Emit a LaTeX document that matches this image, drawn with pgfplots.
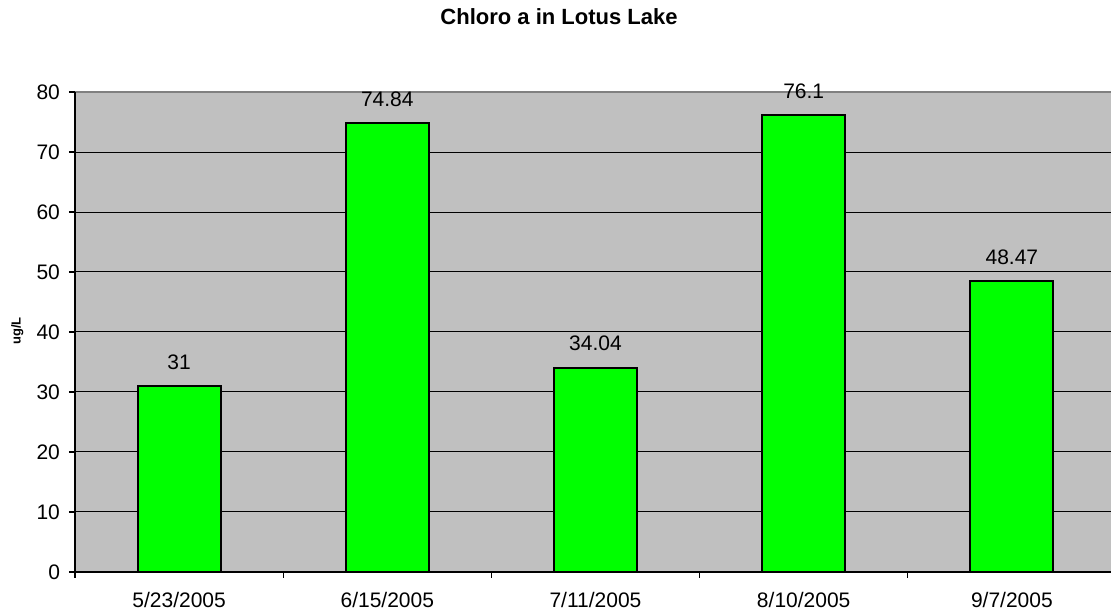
\documentclass[border=0pt]{standalone}
\usepackage{pgfplots}
\pgfplotsset{compat=1.18}
\usepackage{fontspec}
\setmainfont{Liberation Sans}
\definecolor{plotgray}{RGB}{192,192,192}
\definecolor{framegray}{RGB}{128,128,128}
\definecolor{bargreen}{RGB}{0,255,0}
\begin{document}
\begin{tikzpicture}
\useasboundingbox (-37.5pt,-20.5pt) rectangle (518pt,286pt);
\begin{axis}[
  at={(0,0)}, anchor=south west,
  width=520.5pt, height=240pt, scale only axis,
  ybar, bar width=41.5pt,
  xmin=0.5, xmax=5.5, ymin=0, ymax=80,
  axis x line*=bottom, axis y line*=left,
  axis line style={black, line width=0.6pt},
  axis background/.style={fill=plotgray, draw=framegray, line width=1pt},
  tick align=outside, major tick length=3pt,
  xtick={1,2,3,4,5},
  xticklabels={5/23/2005,6/15/2005,7/11/2005,8/10/2005,9/7/2005},
  xticklabel style={yshift=-3.5pt},
  xtick style={draw=none},
  extra x ticks={0.5,1.5,2.5,3.5,4.5,5.5},
  extra x tick labels={},
  extra x tick style={xtick style={draw=black, line width=0.6pt}},
  ytick={0,10,...,70},
  extra y ticks={80},
  extra y tick style={ymajorgrids=false},
  ytick style={black, line width=0.6pt},
  ymajorgrids=true, grid style={black, line width=0.5pt},
  tick label style={font=\fontsize{10.5}{12}\selectfont},
  /pgf/number format/assume math mode=true,
  yticklabel style={xshift=-1pt},
  title={Chloro a in Lotus Lake},
  title style={at={(rel axis cs:0.465,1.131)}, anchor=center, font=\bfseries\fontsize{11}{13}\selectfont},
  ylabel={ug/L},
  ylabel style={at={(rel axis cs:-0.0555,0.502)}, anchor=center, font=\bfseries\fontsize{6.5}{8}\selectfont},
  point meta=explicit symbolic,
  nodes near coords,
  nodes near coords style={anchor=center, yshift=12pt, font=\fontsize{10.5}{12}\selectfont, black},
]
\addplot[fill=bargreen, draw=black, line width=1pt] coordinates {
  (1,31) [31]
  (2,74.84) [74.84]
  (3,34.04) [34.04]
  (4,76.1) [76.1]
  (5,48.47) [48.47]
};
\end{axis}
\end{tikzpicture}
\end{document}
